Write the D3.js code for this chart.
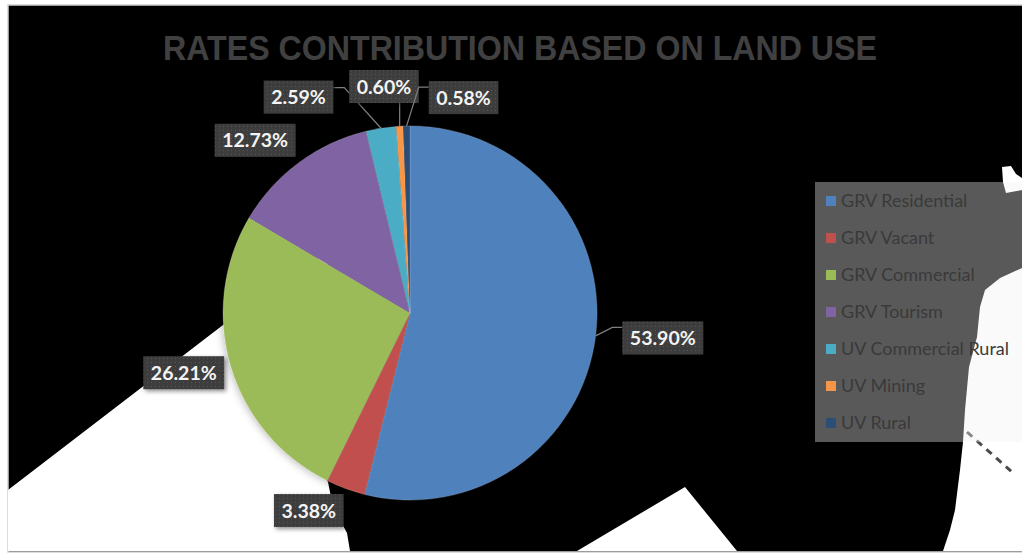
<!DOCTYPE html>
<html>
<head>
<meta charset="utf-8">
<script src="https://cdn.jsdelivr.net/npm/d3@7"></script>
<style>
  body { margin: 0; background: #fff; }
  svg { display: block; }
</style>
</head>
<body>
<div id="chart"></div>
<script>
// data
var categories = ['GRV Residential', 'GRV Vacant', 'GRV Commercial', 'GRV Tourism',
                  'UV Commercial Rural', 'UV Mining', 'UV Rural'];
var values = [53.90, 3.38, 26.21, 12.73, 2.59, 0.60, 0.58];
var value_labels = ['53.90%', '3.38%', '26.21%', '12.73%', '2.59%', '0.60%', '0.58%'];

var colors = ['#4f81bd', '#c0504d', '#9bbb59', '#8064a2', '#4bacc6', '#f79646', '#2c4d75'];
// where excel put the data labels: degrees off the slice middle, distance from centre
var label_nudge = [-1.4, 7, 1.8, -5.4, -18.4, -3.4, 15];
var label_dist = [254, 222, 234, 232, 243, 228, 222];

var width = 1022;
var height = 555;
var cx = 410, cy = 313, radius = 187;

var svg = d3.select('#chart')
	.append('svg')
	.attr('width', width)
	.attr('height', height);

var defs = svg.append('defs');
var pat = defs.append('pattern')
	.attr('id', 'dots')
	.attr('width', 4)
	.attr('height', 4)
	.attr('patternUnits', 'userSpaceOnUse');
pat.append('rect').attr('width', 4).attr('height', 4).attr('fill', '#3d3d3d');
pat.append('rect').attr('x', 1).attr('y', 1).attr('width', 1).attr('height', 1).attr('fill', '#575757');

var shadow = defs.append('filter').attr('id', 'shadow')
	.attr('x', '-20%').attr('y', '-20%').attr('width', '150%').attr('height', '150%');
shadow.append('feDropShadow')
	.attr('dx', 2).attr('dy', 2).attr('stdDeviation', 2)
	.attr('flood-color', '#000').attr('flood-opacity', 0.45);

var pieShadow = defs.append('filter').attr('id', 'pieshadow')
	.attr('x', '-20%').attr('y', '-20%').attr('width', '140%').attr('height', '140%');
pieShadow.append('feDropShadow')
	.attr('dx', 0).attr('dy', 0).attr('stdDeviation', 5)
	.attr('flood-color', '#000').attr('flood-opacity', 0.35);

// chart area: black photo-like background with white shapes
svg.append('rect')
	.attr('x', 8).attr('y', 5)
	.attr('width', width + 10).attr('height', 547)
	.attr('fill', '#000')
	.attr('stroke', '#d0d0d0')
	.attr('stroke-width', 1.5);

var line = d3.line();
var shapes = [
	[[8, 490], [223, 325], [330, 250], [300, 420], [325, 478], [328, 482], [333, 507], [347, 533], [350, 551], [8, 551]],
	[[577, 551], [685, 487], [737, 551]],
	[[1022, 268], [1000, 278], [985, 290], [980, 307], [977, 337], [969, 367], [965, 410], [963, 442],
	 [960, 470], [955, 510], [950, 530], [943, 551], [1022, 551]],
	[[1002, 167], [1011, 166], [1016, 174], [1022, 178], [1022, 190], [1006, 193], [1003, 182]]
];
svg.selectAll('path.bg')
	.data(shapes)
	.enter()
	.append('path')
	.attr('class', 'bg')
	.attr('d', function(d){ return line(d) + 'Z'; })
	.attr('fill', '#fff');

svg.append('path')
	.attr('d', 'M967,432 L1012,472')
	.attr('stroke', '#4a4a4a')
	.attr('stroke-width', 3)
	.attr('stroke-dasharray', '7,6');

// pie
var pie = d3.pie().sort(null).value(function(d){ return d; });
var arcs = pie(values);
var arc = d3.arc().innerRadius(0).outerRadius(radius);

var g = svg.append('g')
	.attr('transform', 'translate(' + cx + ',' + cy + ')');

g.append('g')
	.attr('filter', 'url(#pieshadow)')
	.selectAll('path')
	.data(arcs)
	.enter()
	.append('path')
	.attr('d', arc)
	.attr('fill', function(d, i){ return colors[i]; })
	.attr('stroke', 'rgba(255,255,255,0.25)')
	.attr('stroke-width', 0.5);

// data labels
var labels = g.selectAll('g.lbl')
	.data(arcs)
	.enter()
	.append('g')
	.attr('class', 'lbl');

labels.each(function(d, i){
	var mid = (d.startAngle + d.endAngle) / 2;
	var a = mid + label_nudge[i] * Math.PI / 180;
	var c = d3.pointRadial(a, label_dist[i]);
	var sel = d3.select(this);

	var txt = sel.append('text')
		.text(value_labels[i])
		.attr('x', c[0])
		.attr('y', c[1] + 7)
		.attr('text-anchor', 'middle')
		.attr('font-family', 'Lato, "Open Sans", sans-serif')
		.attr('font-weight', 'bold')
		.attr('font-size', 19.5)
		.attr('fill', '#f4f4f4');
	var tw = txt.node().getComputedTextLength();
	var bw = tw + 15, bh = 33;
	var bx = c[0] - bw / 2, by = c[1] - bh / 2;

	sel.insert('rect', 'text')
		.attr('x', bx).attr('y', by)
		.attr('width', bw).attr('height', bh)
		.attr('fill', 'url(#dots)')
		.attr('filter', 'url(#shadow)');

	// leader line when the label sits away from its slice
	var s = d3.pointRadial(mid, radius);
	var nx = Math.max(bx, Math.min(s[0], bx + bw));
	var ny = Math.max(by, Math.min(s[1], by + bh));
	if (Math.hypot(s[0] - nx, s[1] - ny) < 15) return;
	var pts;
	if (s[0] < bx) {
		pts = [s, [bx - 10, by + 6], [bx, by + 6]];
	} else if (s[0] > bx + bw) {
		pts = [s, [bx + bw + 11, by + 7], [bx + bw, by + 7]];
	} else {
		pts = [s, [s[0], by + bh]];
	}
	sel.insert('path', 'rect')
		.attr('d', d3.line()(pts))
		.attr('fill', 'none')
		.attr('stroke', '#7f7f7f')
		.attr('stroke-width', 1.2);
});

// legend
var legend = svg.append('g');
legend.append('rect')
	.attr('x', 815).attr('y', 182)
	.attr('width', 215).attr('height', 260)
	.attr('fill', '#f2f2f2')
	.attr('fill-opacity', 0.37);

var ly = d3.scalePoint()
	.domain(categories)
	.range([201, 423]);

var items = legend.selectAll('g.item')
	.data(categories)
	.enter()
	.append('g')
	.attr('class', 'item')
	.attr('transform', function(d){ return 'translate(826,' + ly(d) + ')'; });

items.append('rect')
	.attr('x', 0).attr('y', -5)
	.attr('width', 10).attr('height', 10)
	.attr('fill', function(d, i){ return colors[i]; });

items.append('text')
	.text(function(d){ return d; })
	.attr('x', 15)
	.attr('y', 6)
	.attr('font-family', 'Lato, "Open Sans", sans-serif')
	.attr('font-size', 18)
	.attr('fill', '#3a3a3a');

// title
svg.append('text')
	.text('RATES CONTRIBUTION BASED ON LAND USE')
	.attr('x', 520)
	.attr('y', 60)
	.attr('text-anchor', 'middle')
	.attr('font-family', '"Liberation Sans Narrow", "Liberation Sans", sans-serif')
	.attr('font-weight', 'bold')
	.attr('font-size', 35)
	.attr('textLength', 714)
	.attr('lengthAdjust', 'spacingAndGlyphs')
	.attr('fill', '#404040');
</script>
</body>
</html>
